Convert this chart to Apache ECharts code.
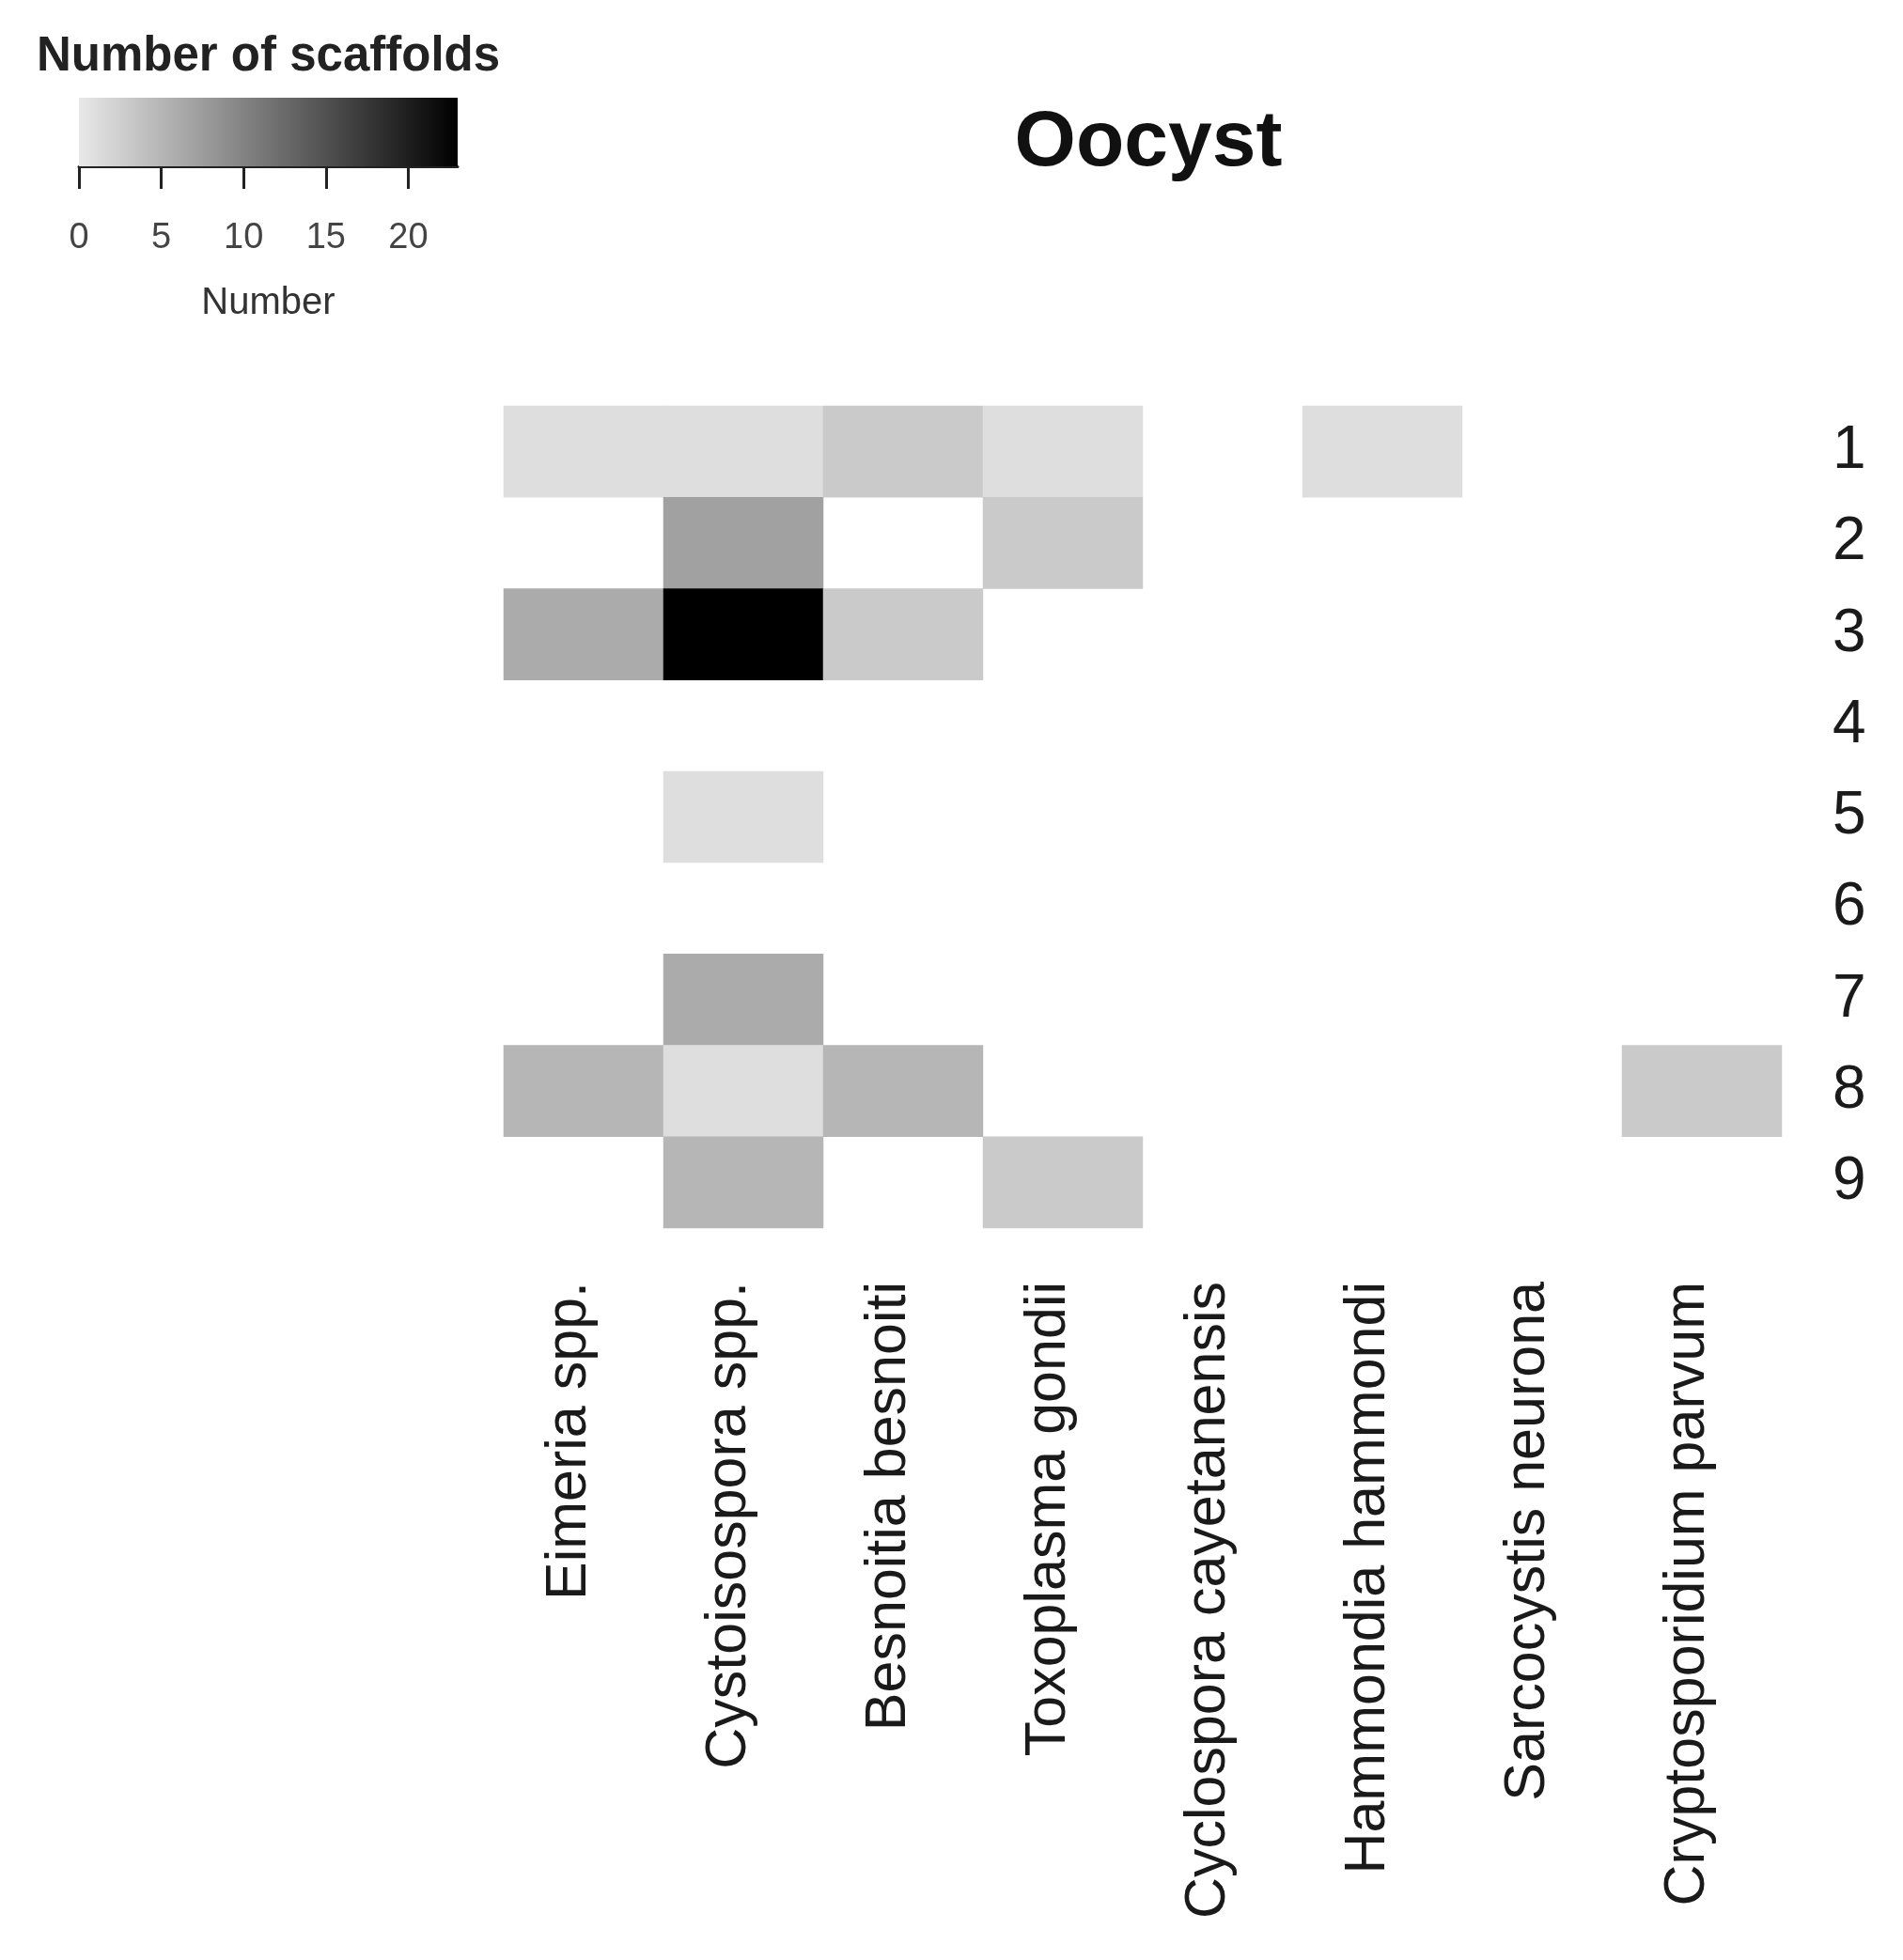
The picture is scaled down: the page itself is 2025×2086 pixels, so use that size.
<!DOCTYPE html>
<html>
<head>
<meta charset="utf-8">
<script src="https://cdn.jsdelivr.net/npm/echarts@6/dist/echarts.min.js"></script>
<style>html,body{margin:0;padding:0;background:#fff}#c{width:2025px;height:2086px}</style>
</head>
<body>
<div id="c"></div>
<script>
// Categories
const species = ['Eimeria spp.', 'Cystoisospora spp.', 'Besnoitia besnoiti', 'Toxoplasma gondii',
  'Cyclospora cayetanensis', 'Hammondia hammondi', 'Sarcocystis neurona', 'Cryptosporidium parvum'];
const rows = ['1', '2', '3', '4', '5', '6', '7', '8', '9'];
// Values per species, rows 1..9 (null = no scaffolds shown)
const eimeria       = [1, null, 6, null, null, null, null, 5, null];
const cystoisospora = [1, 7, 23, null, 1, null, 6, 1, 5];
const besnoitia     = [3, null, 3, null, null, null, null, 5, null];
const toxoplasma    = [1, 3, null, null, null, null, null, null, 3];
const cyclospora    = [null, null, null, null, null, null, null, null, null];
const hammondia     = [1, null, null, null, null, null, null, null, null];
const sarcocystis   = [null, null, null, null, null, null, null, null, null];
const cryptosporidium = [null, null, null, null, null, null, null, 3, null];
// Colour scale
const scaleMin = 0;
const scaleMax = 23;
const legendTicks = [0, 5, 10, 15, 20];

const columns = [eimeria, cystoisospora, besnoitia, toxoplasma, cyclospora, hammondia, sarcocystis, cryptosporidium];
const cells = [];
columns.forEach((col, xi) => col.forEach((v, yi) => { if (v !== null) cells.push([xi, yi, v]); }));

const FONT = 'Liberation Sans, Arial, sans-serif';
const LIGHT = '#e8e8e8', DARK = '#000000';

const chart = echarts.init(document.getElementById('c'));
chart.setOption({
  backgroundColor: '#ffffff',
  animation: false,
  title: [
    { text: 'Oocyst', left: 1217, top: 106, textAlign: 'center',
      textStyle: { fontFamily: FONT, fontSize: 84, fontWeight: 'bold', color: '#111' } },
    { text: 'Number of scaffolds', left: 34, top: 30,
      textStyle: { fontFamily: FONT, fontSize: 51, fontWeight: 'bold', color: '#222' } }
  ],
  visualMap: { show: false, min: scaleMin, max: scaleMax, seriesIndex: 0, dimension: 2,
    inRange: { color: [LIGHT, DARK] } },
  grid: [
    { left: 536, right: 129, top: 432, bottom: 779 },
    { left: 84, width: 403, top: 104, height: 73 }
  ],
  xAxis: [
    { type: 'category', data: species, gridIndex: 0, position: 'bottom',
      axisLine: { show: false }, axisTick: { show: false }, splitLine: { show: false },
      axisLabel: { rotate: 90, margin: 57, fontFamily: FONT, fontSize: 61, color: '#1a1a1a', interval: 0,
        verticalAlign: 'bottom', lineHeight: 30 } },
    { type: 'value', gridIndex: 1, min: scaleMin, max: scaleMax, interval: 5, position: 'bottom',
      axisLine: { show: true, lineStyle: { color: '#222', width: 3 } },
      axisTick: { show: true, length: 24, customValues: legendTicks, lineStyle: { color: '#222', width: 3 } },
      splitLine: { show: false },
      axisLabel: { margin: 58, fontFamily: FONT, fontSize: 38, color: '#444', customValues: legendTicks },
      name: 'Number', nameLocation: 'middle', nameGap: 126,
      nameTextStyle: { fontFamily: FONT, fontSize: 40, color: '#333' } }
  ],
  yAxis: [
    { type: 'category', data: rows, gridIndex: 0, inverse: true, position: 'right',
      axisLine: { show: false }, axisTick: { show: false }, splitLine: { show: false },
      axisLabel: { margin: 54, fontFamily: FONT, fontSize: 64, color: '#1a1a1a', align: 'left' } },
    { type: 'category', data: ['scale'], gridIndex: 1, show: false }
  ],
  series: [
    { type: 'heatmap', xAxisIndex: 0, yAxisIndex: 0, data: cells,
      itemStyle: { borderWidth: 0 }, emphasis: { disabled: true } },
    { type: 'bar', xAxisIndex: 1, yAxisIndex: 1, data: [scaleMax], barWidth: '100%', silent: true,
      itemStyle: { color: new echarts.graphic.LinearGradient(0, 0, 1, 0,
        [{ offset: 0, color: LIGHT }, { offset: 1, color: DARK }]) } }
  ]
});
</script>
</body>
</html>
